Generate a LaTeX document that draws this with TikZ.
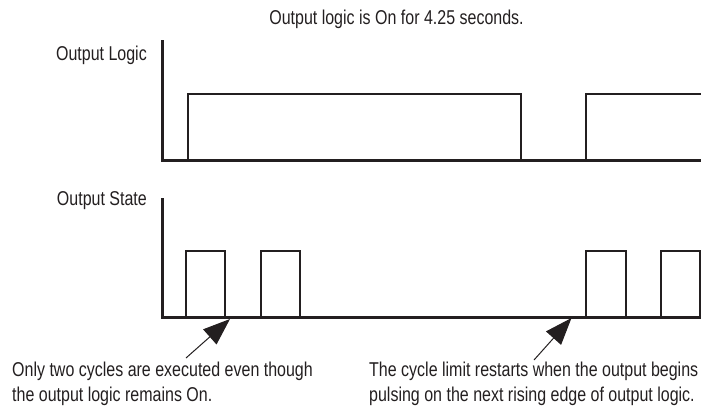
\documentclass[tikz,border=0pt]{standalone}
\usepackage{fontspec}
\setmainfont[FakeStretch=0.8]{Liberation Sans}
\usepackage{tikz}
\usetikzlibrary{calc,arrows.meta}
\definecolor{traceblack}{RGB}{35,31,32}
\tikzstyle{plottext}=[inner sep=0pt,text=traceblack,
                      font=\fontsize{20}{25}\selectfont]
\tikzstyle{axisline}=[draw=traceblack,line width=3pt]
\tikzstyle{traceline}=[draw=traceblack,line width=2.7pt]
\tikzstyle{callout}=[draw=traceblack,line width=1pt,
                     -{Triangle[length=27pt,width=20pt]}]
\newcommand\logicbase{160}
\newcommand\logichigh{94}
\newcommand\statebase{317}
\newcommand\statehigh{251}

\begin{document}
\begin{tikzpicture}[x=1pt,y=-1pt]
    \useasboundingbox (0,0) rectangle (707,410);
    	\node [plottext,anchor=base] (title) at (396.5,24.5) {
    		Output logic is On for 4.25 seconds.
    	};
    	\node [plottext,anchor=base east] (logic label) at (147,60) {
    		Output Logic
    	};
    	\node [plottext,anchor=base east] (state label) at (147,205) {
    		Output State
    	};
    	\draw [axisline] (162,40) -- (162,\logicbase) -- (701,\logicbase);
    	\draw [traceline] (188,\logicbase) -- (188,\logichigh) -- (521,\logichigh) -- (521,\logicbase);
    	\draw [traceline] (586,\logicbase) -- (586,\logichigh) -- (701,\logichigh);
    	\draw [axisline] (162,198) -- (162,\statebase) -- (701,\statebase);
    	\draw [traceline] (186,\statebase) -- (186,\statehigh) -- (225,\statehigh) -- (225,\statebase);
    	\draw [traceline] (261,\statebase) -- (261,\statehigh) -- (300,\statehigh) -- (300,\statebase);
    	\draw [traceline] (586,\statebase) -- (586,\statehigh) -- (626,\statehigh) -- (626,\statebase);
    	\draw [traceline] (661,\statebase) -- (661,\statehigh) -- (700,\statehigh) -- (700,\statebase);
    	\node [plottext,anchor=base west,align=left] (two cycles) at (12,401) {
    		Only two cycles are executed even though\\the output logic remains On.
    	};
    	\node [plottext,anchor=base west,align=left] (restart) at (369,401) {
    		The cycle limit restarts when the output begins\\pulsing on the next rising edge of output logic.
    	};
    	\coordinate (two cycles tail) at (186,358);
    	\coordinate (two cycles tip) at (230,319);
    	\coordinate (restart tail) at (534,360);
    	\coordinate (restart tip) at (571.5,318);
    	\draw [callout] (two cycles tail) -- (two cycles tip);
    	\draw [callout] (restart tail) -- (restart tip);
    \end{tikzpicture}
\end{document}
